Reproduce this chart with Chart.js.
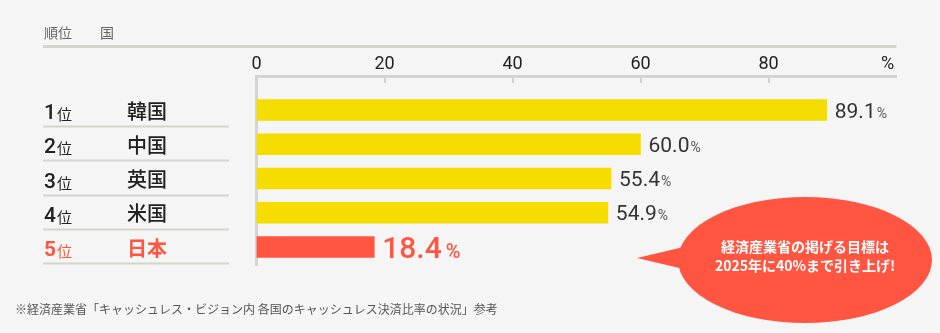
<!DOCTYPE html>
<html lang="ja">
<head>
<meta charset="utf-8">
<script src="https://cdn.jsdelivr.net/npm/chart.js@4"></script>
<style>
html,body{margin:0;padding:0;background:#f5f5f5;}
#wrap{width:940px;height:333px;position:relative;}
</style>
</head>
<body>
<div id="wrap"><canvas id="rankChart" width="940" height="333"></canvas></div>
<script>
// ranking data
const ranks = ["1", "2", "3", "4", "5"];
const countries = ["韓国", "中国", "英国", "米国", "日本"];
const ratios = [89.1, 60.0, 55.4, 54.9, 18.4];
const axisTicks = [0, 20, 40, 60, 80, 100];

const YELLOW = "#f5dd00";
const RED = "#ff5541";
const LINE = "#d6d4cd";
const JP = "'Noto Sans CJK JP', 'Noto Sans', sans-serif";
const NUM = "Roboto, 'Noto Sans', sans-serif";
const HL = 4; // japan row is highlighted
const Y_MIN = -0.993, Y_MAX = 4.525;

const tablePlugin = {
id: "tablePlugin",
afterDraw(chart) {
const {ctx, chartArea} = chart;
const x = chart.scales.x;
const y = chart.scales.y;
ctx.save();

// header
ctx.fillStyle = "#666";
ctx.font = "14px " + JP;
ctx.textBaseline = "middle";
ctx.textAlign = "left";
ctx.fillText("順位", 44, 33);
ctx.fillText("国", 100, 33);
ctx.strokeStyle = LINE;
ctx.lineWidth = 3;
ctx.beginPath();
ctx.moveTo(43, 46.5);
ctx.lineTo(chartArea.right, 46.5);
ctx.stroke();

// tick marks hanging under the axis line
ctx.lineWidth = 2;
axisTicks.forEach(t => {
if (t === 0 || t === 100) return;
const px = Math.round(x.getPixelForValue(t));
ctx.beginPath();
ctx.moveTo(px, chartArea.top);
ctx.lineTo(px, chartArea.top + 7);
ctx.stroke();
});

// left table: rank + country, with a line under each row
countries.forEach((name, i) => {
const cy = y.getPixelForValue(i);
const col = i === HL ? RED : "#222";
ctx.fillStyle = col;
ctx.textBaseline = "alphabetic";
ctx.font = (i === HL ? "bold " : "500 ") + "21px " + NUM;
ctx.fillText(ranks[i], 44, cy + 9);
const w = ctx.measureText(ranks[i]).width;
ctx.font = "15px " + JP;
ctx.fillText("位", 44 + w + 1, cy + 10);
ctx.font = (i === HL ? "bold " : "500 ") + "20px " + JP;
ctx.textBaseline = "middle";
ctx.fillText(name, 127, cy + 1);

const ly = Math.round(y.getPixelForValue(i + 0.5)) - 0.5;
ctx.strokeStyle = LINE;
ctx.lineWidth = 2;
ctx.beginPath();
ctx.moveTo(43, ly);
ctx.lineTo(229, ly);
ctx.stroke();
});

// value labels at the bar ends
ratios.forEach((v, i) => {
const cy = y.getPixelForValue(i);
const px = x.getPixelForValue(v) + 8;
const big = i === HL;
ctx.textBaseline = "alphabetic";
ctx.fillStyle = big ? RED : "#333";
ctx.font = (big ? "500 30px " : "21px ") + NUM;
const txt = v.toFixed(1);
ctx.fillText(txt, px, cy + (big ? 11 : 7.5));
const w = ctx.measureText(txt).width;
ctx.fillStyle = big ? RED : "#555";
ctx.font = (big ? "500 20px " : "14px ") + NUM;
ctx.fillText("%", px + w + (big ? 4 : 1), cy + (big ? 11 : 7.5));
});

// speech bubble
ctx.fillStyle = RED;
ctx.beginPath();
ctx.ellipse(805, 260, 127, 63, 0, 0, Math.PI * 2);
ctx.fill();
ctx.beginPath();
ctx.moveTo(637, 258);
ctx.lineTo(692, 245);
ctx.lineTo(692, 271);
ctx.closePath();
ctx.fill();
ctx.fillStyle = "#fff";
ctx.font = "bold 14px " + JP;
ctx.textAlign = "center";
ctx.textBaseline = "middle";
ctx.fillText("経済産業省の掲げる目標は", 805, 247);
ctx.fillText("2025年に40%まで引き上げ!", 805, 266);

// source note
ctx.fillStyle = "#555";
ctx.font = "12px " + JP;
ctx.textAlign = "left";
ctx.fillText("※経済産業省「キャッシュレス・ビジョン内 各国のキャッシュレス決済比率の状況」参考", 15, 309);
ctx.restore();
}
};

new Chart(document.getElementById("rankChart"), {
type: "bar",
data: {
datasets: [{
data: ratios.map((v, i) => ({x: v, y: i})),
backgroundColor: ratios.map((v, i) => i === HL ? RED : YELLOW),
borderWidth: 0,
barThickness: 21
}]
},
options: {
indexAxis: "y",
responsive: false,
animation: false,
layout: {padding: {top: 50, left: 256.5, right: 43.5, bottom: 68}},
plugins: {legend: {display: false}, tooltip: {enabled: false}},
scales: {
x: {
type: "linear",
position: "top",
min: 0,
max: 100,
afterBuildTicks: s => { s.ticks = axisTicks.map(v => ({value: v})); },
afterFit: s => { s.height = 26; },
ticks: {
color: "#222",
font: {family: NUM, size: 18},
padding: 1,
// unit sign sits flush with the right end of the axis
callback: v => v === 100 ? "%    " : v
},
grid: {display: false, drawTicks: false},
border: {display: true, color: LINE, width: 3}
},
y: {
type: "linear",
reverse: true,
offset: false,
min: Y_MIN,
max: Y_MAX,
afterFit: s => { s.width = 0; },
ticks: {display: false},
grid: {display: false, drawTicks: false, offset: false},
border: {display: true, color: LINE, width: 3}
}
}
},
plugins: [tablePlugin]
});
</script>
</body>
</html>
